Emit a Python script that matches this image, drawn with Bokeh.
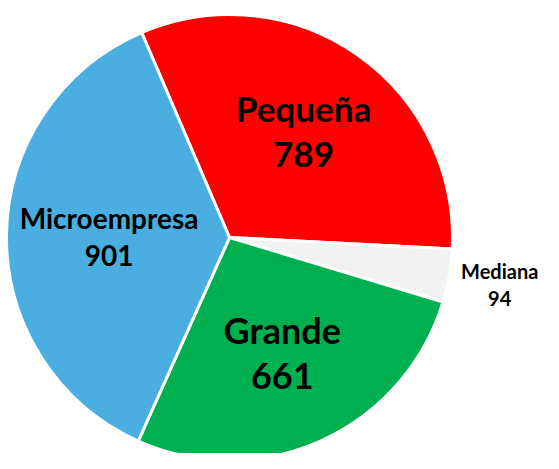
import math
from bokeh.plotting import figure
from bokeh.models import Range1d, ColumnDataSource
from bokeh.core.properties import value
from bokeh.embed import file_html
from bokeh.resources import INLINE

# ---- data ----
categories = ["Pequeña", "Mediana", "Grande", "Microempresa"]
counts = [789, 94, 661, 901]
colors = ["#FF0000", "#F2F2F2", "#00B050", "#4BAEE0"]

# ---- layout / style ----
W, H = 543, 453
cx, cy = 229, H - 237
R = 223
start_clock_deg = -23.2           # first slice starts this many degrees (clockwise) from 12 o'clock
label_r = [0.58, 1.23, 0.57, 0.54]
name_size = ["35px", "20px", "36px", "28px"]
val_size = ["35px", "20px", "36px", "28px"]
line_gap = [46, 27, 46, 38]

total = sum(counts)
starts, ends, lx, ly = [], [], [], []
cum = 0.0
for i, c in enumerate(counts):
    a0 = math.radians(90 - start_clock_deg) - cum / total * 2 * math.pi
    a1 = a0 - c / total * 2 * math.pi
    starts.append(a0)
    ends.append(a1)
    mid = (a0 + a1) / 2
    lx.append(cx + label_r[i] * R * math.cos(mid))
    ly.append(cy + label_r[i] * R * math.sin(mid))
    cum += c

p = figure(width=W, height=H, output_backend="svg", toolbar_location=None,
           x_range=Range1d(0, W), y_range=Range1d(0, H), min_border=0)
p.axis.visible = False
p.grid.visible = False
p.outline_line_color = None
p.background_fill_color = "white"

src = ColumnDataSource(dict(x=[cx] * len(counts), y=[cy] * len(counts),
                            start=starts, end=ends, color=colors))
p.wedge(x="x", y="y", radius=R, start_angle="start", end_angle="end",
        direction="clock", fill_color="color", line_color="white",
        line_width=3, source=src)

for i in range(len(counts)):
    g = line_gap[i] / 2
    p.text(x=[lx[i]], y=[ly[i] + g], text=[categories[i]],
           text_font=value("Lato"), text_font_style="bold",
           text_font_size=name_size[i], text_align="center",
           text_baseline="middle", text_color="black")
    p.text(x=[lx[i]], y=[ly[i] - g], text=[str(counts[i])],
           text_font=value("Lato"), text_font_style="bold",
           text_font_size=val_size[i], text_align="center",
           text_baseline="middle", text_color="black")

open("out.html", "w").write(file_html(p, INLINE))
